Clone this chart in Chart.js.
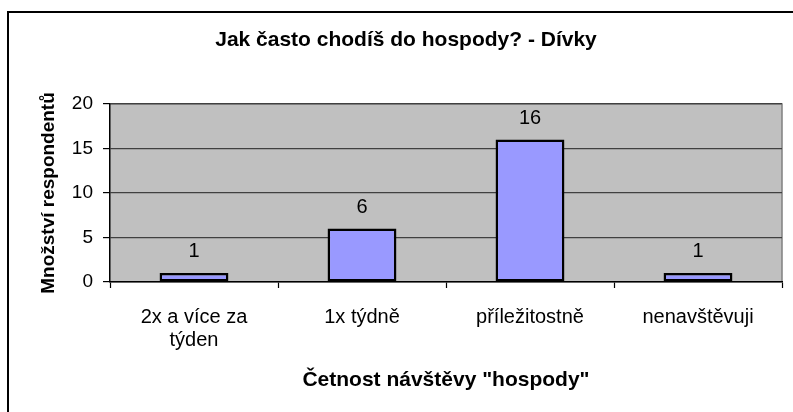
<!DOCTYPE html>
<html>
<head>
<meta charset="utf-8">
<script src="https://cdn.jsdelivr.net/npm/chart.js@4.4.1/dist/chart.umd.min.js"></script>
<style>
  html, body { margin: 0; padding: 0; background: #ffffff; }
  #wrap { width: 793px; height: 412px; }
</style>
</head>
<body>
<div id="wrap"><canvas id="c" width="793" height="412"></canvas></div>
<script>
const categories = [['2x a více za', 'týden'], '1x týdně', 'příležitostně', 'nenavštěvuji'];
const values = [1, 6, 16, 1];
const yTicks = [0, 5, 10, 15, 20];
const chartTitle = 'Jak často chodíš do hospody? - Dívky';
const xTitle = 'Četnost návštěvy "hospody"';
const yTitle = 'Množství respondentů';

const FONT = "'Liberation Sans', Arial, sans-serif";

const plotBg = {
  id: 'plotBg',
  beforeDraw(chart) {
    const {ctx, chartArea: a} = chart;
    ctx.save();
    ctx.strokeStyle = '#000000';
    ctx.lineWidth = 2;
    ctx.beginPath();
    ctx.moveTo(8, 412);
    ctx.lineTo(8, 12);
    ctx.lineTo(793, 12);
    ctx.stroke();
    ctx.fillStyle = '#C0C0C0';
    ctx.fillRect(a.left, a.top, a.right - a.left, a.bottom - a.top);
    ctx.strokeStyle = '#808080';
    ctx.lineWidth = 1.5;
    ctx.beginPath();
    ctx.moveTo(a.left, a.top);
    ctx.lineTo(a.right, a.top);
    ctx.lineTo(a.right, a.bottom);
    ctx.stroke();
    ctx.restore();
  }
};

const dataLabels = {
  id: 'dataLabels',
  afterDatasetsDraw(chart) {
    const {ctx} = chart;
    const meta = chart.getDatasetMeta(0);
    ctx.save();
    ctx.fillStyle = '#000000';
    ctx.font = '20px ' + FONT;
    ctx.textAlign = 'center';
    ctx.textBaseline = 'alphabetic';
    meta.data.forEach((bar, i) => {
      ctx.fillText(String(chart.data.datasets[0].data[i]), bar.x, bar.y - 16);
    });
    ctx.restore();
  }
};

new Chart(document.getElementById('c'), {
  type: 'bar',
  data: {
    labels: categories,
    datasets: [{
      data: values,
      backgroundColor: '#9999FF',
      borderColor: '#000000',
      borderWidth: 2.5,
      borderSkipped: false,
      categoryPercentage: 1.0,
      barPercentage: 0.41
    }]
  },
  options: {
    responsive: false,
    devicePixelRatio: 1,
    animation: false,
    layout: { padding: { left: 30, right: 11, top: 0, bottom: 0 } },
    plugins: {
      legend: { display: false },
      tooltip: { enabled: false },
      title: {
        display: true,
        text: chartTitle,
        color: '#000000',
        font: { family: FONT, size: 21, weight: 'bold', lineHeight: 1.2 },
        padding: { top: 28, bottom: 50.8 }
      }
    },
    scales: {
      x: {
        grid: {
          display: true,
          drawOnChartArea: false,
          drawTicks: true,
          offset: true,
          tickLength: 6,
          tickColor: '#000000',
          tickWidth: 1.2,
          color: '#000000'
        },
        border: { display: true, color: '#000000', width: 1.5 },
        ticks: {
          color: '#000000',
          font: { family: FONT, size: 20, lineHeight: 1.15 },
          padding: 18,
          maxRotation: 0,
          autoSkip: false
        },
        title: {
          display: true,
          text: xTitle,
          color: '#000000',
          font: { family: FONT, size: 21, weight: 'bold', lineHeight: 1.2 },
          padding: { top: 0, bottom: 19.4 }
        },
        afterFit(scale) { scale.height = 130; }
      },
      y: {
        min: 0,
        max: 20,
        afterBuildTicks(scale) { scale.ticks = yTicks.map(v => ({ value: v })); },
        grid: {
          color: '#404040',
          lineWidth: 1.2,
          drawTicks: true,
          tickLength: 7,
          tickColor: '#000000',
          tickWidth: 1.2
        },
        border: { display: true, color: '#000000', width: 1.5 },
        ticks: {
          color: '#000000',
          font: { family: FONT, size: 19 },
          padding: 10
        },
        title: {
          display: true,
          text: yTitle,
          color: '#000000',
          font: { family: FONT, size: 19, weight: 'bold', lineHeight: 1.2 },
          padding: { top: 7, bottom: 0 }
        },
        afterFit(scale) { scale.width = 80; }
      }
    }
  },
  plugins: [plotBg, dataLabels]
});
</script>
</body>
</html>
